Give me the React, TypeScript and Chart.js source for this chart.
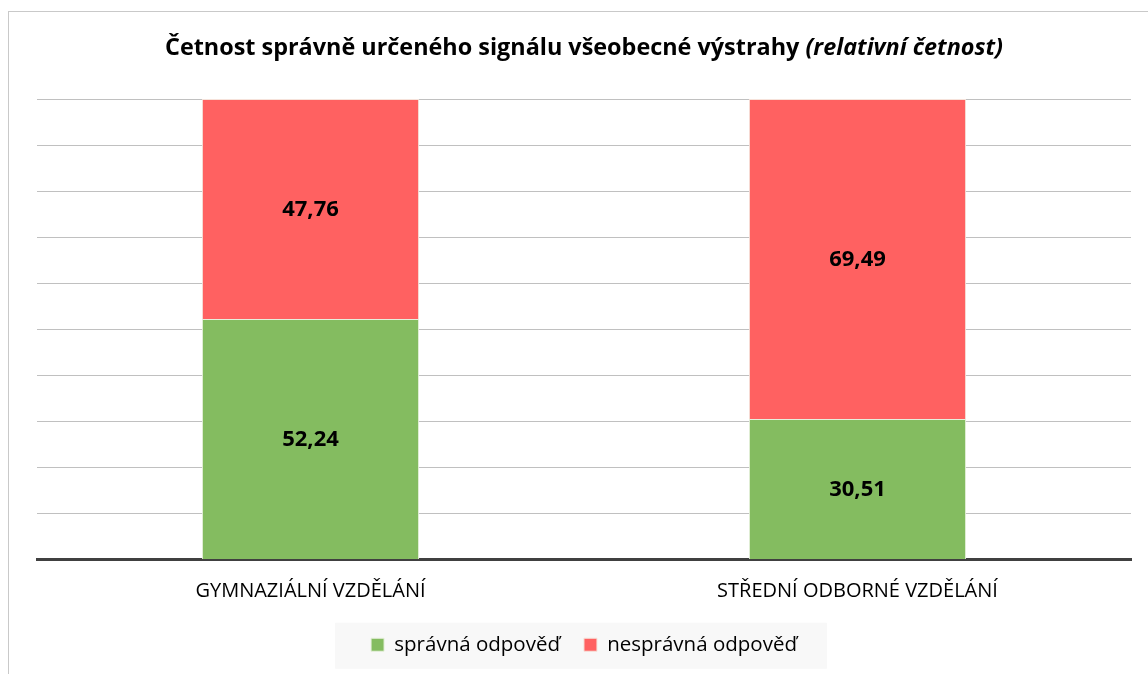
import React, { useEffect, useRef } from "react";
import { Chart, registerables } from "chart.js";

Chart.register(...registerables);

const categories = ["GYMNAZIÁLNÍ VZDĚLÁNÍ", "STŘEDNÍ ODBORNÉ VZDĚLÁNÍ"];
const correctValues = [52.24, 30.51];
const wrongValues = [47.76, 69.49];
const seriesLabels = ["správná odpověď", "nesprávná odpověď"];
const titleMain = "Četnost správně určeného signálu všeobecné výstrahy ";
const titleItalic = "(relativní četnost)";

const FONT = "'Open Sans'";

const framePlugin = {
  id: "frame",
  beforeDraw(chart: any) {
    const ctx = chart.ctx;
    ctx.save();
    ctx.fillStyle = "#ffffff";
    ctx.fillRect(0, 0, chart.width, chart.height);
    ctx.strokeStyle = "#c9c9c9";
    ctx.lineWidth = 1;
    ctx.strokeRect(8.5, 11.5, chart.width + 20, chart.height + 20);
    const lg = chart.legend;
    if (lg && lg.legendHitBoxes && lg.legendHitBoxes.length) {
      const boxes = lg.legendHitBoxes;
      const left = boxes[0].left - 36;
      const last = boxes[boxes.length - 1];
      const right = last.left + last.width + 30;
      const cy = boxes[0].top + boxes[0].height / 2 + 1;
      ctx.fillStyle = "#f8f8f8";
      ctx.fillRect(left, cy - 23, right - left, 46);
    }
    ctx.restore();
  },
};

const titlePlugin = {
  id: "customTitle",
  afterDraw(chart: any) {
    const ctx = chart.ctx;
    const area = chart.chartArea;
    ctx.save();
    const f1 = `bold 23.4px ${FONT}`;
    const f2 = `italic bold 23.4px ${FONT}`;
    ctx.font = f1;
    const w1 = ctx.measureText(titleMain).width;
    ctx.font = f2;
    const w2 = ctx.measureText(titleItalic).width;
    const cx = (area.left + area.right) / 2;
    const x0 = cx - (w1 + w2) / 2;
    ctx.textBaseline = "middle";
    ctx.textAlign = "left";
    ctx.fillStyle = "#000000";
    ctx.font = f1;
    ctx.fillText(titleMain, x0, 48);
    ctx.font = f2;
    ctx.fillText(titleItalic, x0 + w1, 48);
    ctx.restore();
  },
};

const valueLabelPlugin = {
  id: "valueLabels",
  afterDatasetsDraw(chart: any) {
    const ctx = chart.ctx;
    ctx.save();
    ctx.font = `bold 22px ${FONT}`;
    ctx.fillStyle = "#000000";
    ctx.textAlign = "center";
    ctx.textBaseline = "middle";
    chart.data.datasets.forEach((ds: any, di: number) => {
      const meta = chart.getDatasetMeta(di);
      meta.data.forEach((bar: any, i: number) => {
        const v = ds.data[i] as number;
        const y = (bar.y + bar.base) / 2 + 1;
        ctx.fillText(v.toFixed(2).replace(".", ","), bar.x, y);
      });
    });
    ctx.restore();
  },
};

export default function App() {
  const ref = useRef<HTMLCanvasElement | null>(null);
  useEffect(() => {
    if (!ref.current) return;
    const chart = new Chart(ref.current, {
      type: "bar",
      data: {
        labels: categories,
        datasets: [
          {
            label: seriesLabels[0],
            data: correctValues,
            backgroundColor: "#84bc60",
            borderColor: "#e6f0dc",
            borderWidth: 1,
          },
          {
            label: seriesLabels[1],
            data: wrongValues,
            backgroundColor: "#ff6161",
            borderColor: "#f6e2da",
            borderWidth: 1,
          },
        ],
      },
      options: {
        responsive: false,
        animation: false,
        layout: { padding: { left: 37, right: 17, top: 99, bottom: 9 } },
        datasets: {
          bar: { categoryPercentage: 1, barPercentage: 0.397 },
        },
        scales: {
          x: {
            stacked: true,
            grid: { display: false, drawTicks: false },
            border: { display: true, color: "#404040", width: 3 },
            ticks: {
              color: "#000000",
              font: { family: FONT, size: 20 },
              padding: 20,
            },
            afterFit(scale: any) {
              scale.height = 51;
            },
          },
          y: {
            stacked: true,
            min: 0,
            max: 100,
            ticks: { display: false, stepSize: 10 },
            grid: { color: "#c0c0c0", lineWidth: 1, drawTicks: false },
            border: { display: false },
            afterFit(scale: any) {
              scale.width = 0;
            },
          },
        },
        plugins: {
          title: { display: false },
          tooltip: { enabled: false },
          legend: {
            position: "bottom",
            labels: {
              color: "#000000",
              font: { family: FONT, size: 20.5 },
              boxWidth: 13,
              boxHeight: 13,
              padding: 24,
            },
          },
        },
      },
      plugins: [framePlugin, titlePlugin, valueLabelPlugin],
    });
    return () => chart.destroy();
  }, []);
  return (
    <div style={{ position: "fixed", left: 0, top: 0, width: 1148, height: 674 }}>
      <canvas ref={ref} width={1148} height={674} style={{ display: "block" }} />
    </div>
  );
}
